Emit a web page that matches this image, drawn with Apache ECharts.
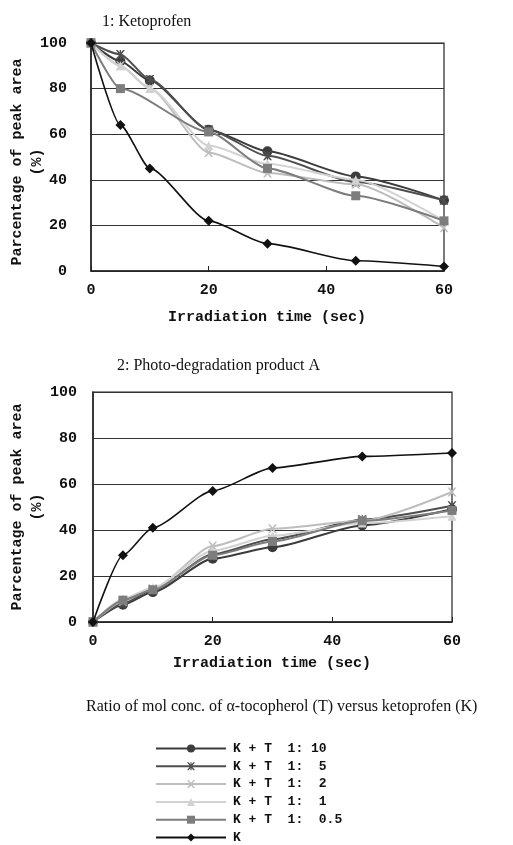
<!DOCTYPE html>
<html>
<head>
<meta charset="utf-8">
<script src="https://cdn.jsdelivr.net/npm/echarts@6/dist/echarts.min.js"></script>
<style>html,body{margin:0;padding:0;background:#fff;}#c{width:513px;height:845px;}</style>
</head>
<body>
<div id="c"></div>
<script>
// ---- data ----
const times = [0, 5, 10, 20, 30, 45, 60];
const seriesNames = ['K + T  1: 10', 'K + T  1:  5', 'K + T  1:  2', 'K + T  1:  1', 'K + T  1:  0.5', 'K'];
// Chart 1: Ketoprofen (%)
const keto_10 = [100, 92, 83.5, 62, 52.5, 41.5, 31];
const keto_5  = [100, 95, 84, 62, 50.5, 39, 31];
const keto_2  = [100, 90, 80, 52, 43, 38, 19];
const keto_1  = [100, 90, 80, 55, 47, 40, 22];
const keto_05 = [100, 80, null, 61, 45, 33, 22];
const keto_K  = [100, 64, 45, 22, 12, 4.5, 2];
// Chart 2: Photo-degradation product A (%)
const prod_10 = [0, 7.5, 13, 27.5, 32.5, 42, 49];
const prod_5  = [0, 8, 14, 29.5, 36, 44.5, 50.5];
const prod_2  = [0, 9, 14.5, 33, 40.5, 44, 56.5];
const prod_1  = [0, 10, 15, 31, 37.5, 43, 46];
const prod_05 = [0, 9.5, 14, 29, 35, 44, 48.5];
const prod_K  = [0, 29, 41, 57, 67, 72, 73.5];
const xTicks = [0, 20, 40, 60];
const yTicks = [0, 20, 40, 60, 80, 100];

// ---- styles ----
const xPath = 'M0,0 L2,0 L5,3.4 L8,0 L10,0 L6.2,5 L10,10 L8,10 L5,6.6 L2,10 L0,10 L3.8,5 Z';
const starPath = xPath + ' M4.3,0 L5.7,0 L5.7,10 L4.3,10 Z';
const styles = [
  {color: '#3c3c3c', symbol: 'circle', size: 10, width: 2},
  {color: '#4e4e4e', symbol: 'path://' + starPath, size: 9, width: 2},
  {color: '#bdbdbd', symbol: 'path://' + xPath, size: 9, width: 2},
  {color: '#d2d2d2', symbol: 'triangle', size: 9, width: 2},
  {color: '#7d7d7d', symbol: 'rect', size: 9, width: 2},
  {color: '#111111', symbol: 'diamond', size: 10, width: 1.6}
];
const ketoSets = [keto_10, keto_5, keto_2, keto_1, keto_05, keto_K];
const prodSets = [prod_10, prod_5, prod_2, prod_1, prod_05, prod_K];

const mono = 'Liberation Mono';
const serif = 'Liberation Serif';

function pairs(arr) { return times.map((t, i) => [t, arr[i]]); }
function makeSeries(sets, idx) {
  return sets.map((arr, i) => ({
    name: seriesNames[i], type: 'line', xAxisIndex: idx, yAxisIndex: idx,
    data: pairs(arr), connectNulls: true, smooth: 0.22, smoothMonotone: 'x',
    symbol: styles[i].symbol, symbolSize: styles[i].size, showSymbol: true,
    lineStyle: {color: styles[i].color, width: styles[i].width},
    itemStyle: {color: styles[i].color, borderWidth: 0},
    emphasis: {disabled: true}, animation: false, z: 2 + i
  }));
}

function xAxis(idx) {
  return {
    gridIndex: idx, type: 'value', min: 0, max: 60, interval: 20,
    axisLine: {show: true, lineStyle: {color: '#222', width: 1.5}},
    axisTick: {show: true, inside: true, length: 5, lineStyle: {color: '#222'}},
    axisLabel: {margin: 12, fontFamily: mono, fontWeight: 'bold', fontSize: 15, color: '#111',
      formatter: v => xTicks.includes(v) ? String(v) : ''},
    splitLine: {show: false}
  };
}
function yAxis(idx, margin) {
  return {
    gridIndex: idx, type: 'value', min: 0, max: 100, interval: 20,
    axisLine: {show: true, lineStyle: {color: '#222', width: 1.5}},
    axisTick: {show: false},
    axisLabel: {margin: margin, fontFamily: mono, fontWeight: 'bold', fontSize: 15, color: '#111',
      formatter: v => yTicks.includes(v) ? String(v) : ''},
    splitLine: {show: true, lineStyle: {color: '#333', width: 1.2}}
  };
}

const chart = echarts.init(document.getElementById('c'), null, {renderer: 'canvas', width: 513, height: 845});
const option = {
  backgroundColor: '#fff',
  animation: false,
  grid: [
    {left: 91, right: 69, top: 43, height: 228, show: true, borderColor: '#222', borderWidth: 1.2, backgroundColor: 'transparent'},
    {left: 93, right: 61, top: 392, height: 230, show: true, borderColor: '#222', borderWidth: 1.2, backgroundColor: 'transparent'}
  ],
  xAxis: [xAxis(0), xAxis(1)],
  yAxis: [yAxis(0, 24), yAxis(1, 16)],
  title: [
    {text: '1: Ketoprofen', left: 97, top: 9, textStyle: {fontFamily: serif, fontWeight: 'normal', fontSize: 16, color: '#111'}},
    {text: '2: Photo-degradation product A', left: 112, top: 353, textStyle: {fontFamily: serif, fontWeight: 'normal', fontSize: 16, color: '#111'}},
    {text: 'Ratio of mol conc. of α-tocopherol (T) versus ketoprofen (K)', left: 81, top: 694, textStyle: {fontFamily: serif, fontWeight: 'normal', fontSize: 16, color: '#111'}}
  ],
  graphic: [
    {type: 'text', x: 267, y: 317, style: {text: 'Irradiation time (sec)', font: 'bold 15px "Liberation Mono"', fill: '#111', align: 'center', verticalAlign: 'middle'}},
    {type: 'text', x: 272, y: 663, style: {text: 'Irradiation time (sec)', font: 'bold 15px "Liberation Mono"', fill: '#111', align: 'center', verticalAlign: 'middle'}},
    {type: 'text', x: 17, y: 162, rotation: Math.PI / 2, style: {text: 'Parcentage of peak area', font: 'bold 15px "Liberation Mono"', fill: '#111', align: 'center', verticalAlign: 'middle'}},
    {type: 'text', x: 37, y: 162, rotation: Math.PI / 2, style: {text: '(%)', font: 'bold 15px "Liberation Mono"', fill: '#111', align: 'center', verticalAlign: 'middle'}},
    {type: 'text', x: 17, y: 507, rotation: Math.PI / 2, style: {text: 'Parcentage of peak area', font: 'bold 15px "Liberation Mono"', fill: '#111', align: 'center', verticalAlign: 'middle'}},
    {type: 'text', x: 37, y: 507, rotation: Math.PI / 2, style: {text: '(%)', font: 'bold 15px "Liberation Mono"', fill: '#111', align: 'center', verticalAlign: 'middle'}}
  ],
  legend: {
    orient: 'vertical', left: 150, top: 737, height: 140, itemWidth: 70, itemHeight: 10, itemGap: 4.8,
    data: seriesNames,
    textStyle: {fontFamily: mono, fontWeight: 'bold', fontSize: 13, color: '#111', lineHeight: 12.6, padding: [0, 0, 0, 2]},
    selectedMode: false
  },
  series: makeSeries(ketoSets, 0).concat(makeSeries(prodSets, 1))
};
chart.setOption(option);
</script>
</body>
</html>
